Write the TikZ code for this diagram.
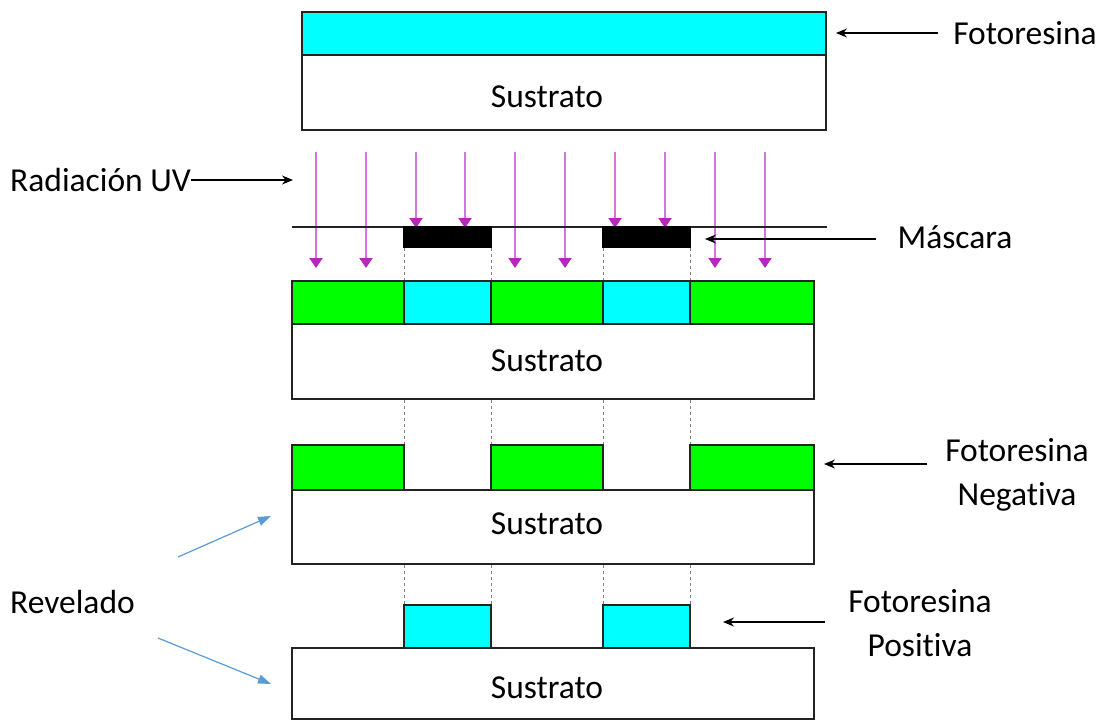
\documentclass[tikz,border=0pt]{standalone}
\usepackage{fontspec}
\setmainfont{Carlito}[Ligatures={NoCommon,NoRare,NoContextual}]
\usetikzlibrary{arrows.meta}
\definecolor{cyanc}{RGB}{0,255,255}
\definecolor{greenc}{RGB}{0,255,0}
\definecolor{uvline}{RGB}{210,120,220}
\definecolor{uvtip}{RGB}{180,40,190}
\definecolor{bluec}{RGB}{91,155,213}
\definecolor{edgec}{RGB}{35,35,35}
\begin{document}
\begin{tikzpicture}[x=1pt,y=-1pt,
  lay/.style={draw=edgec, line width=1.7pt, inner sep=0pt, outer sep=0pt, anchor=north west},
  lbl/.style={font=\fontsize{33.5}{44}\selectfont, inner sep=0pt, text=black},
  ptr/.style={-{Stealth[length=11pt,width=9pt]}, line width=1.2pt, black},
  uv/.style={uvline, line width=2pt, -{Triangle[length=10pt,width=13pt,color=uvtip]}},
  rv/.style={bluec, line width=1.2pt, -{Triangle[length=13pt,width=9pt]}},
  guide/.style={gray, dashed, line width=1pt}]
\useasboundingbox (0,0) rectangle (1109,721);
\fill[white] (0,0) rectangle (1109,721);

% ---- row 1: resist on substrate
\node[lay, fill=cyanc, minimum width=524pt, minimum height=43pt] (r1c) at (302,12) {};
\node[lay, fill=white, minimum width=524pt, minimum height=75pt] (r1s) at (302,55) {};
\node[lbl] (t1) at (547,97) {Sustrato};

% ---- UV arrows and mask
\foreach \xx in {316,366,515,565,715,765} \draw[uv] (\xx,152) -- (\xx,268);
\foreach \xx in {416,465,615,665} \draw[uv] (\xx,152) -- (\xx,228);
\draw[line width=1.4pt, edgec] (292,227) -- (827,227);
\node[lay, fill=black, draw=black, minimum width=87pt, minimum height=20pt] (m1) at (404,227) {};
\node[lay, fill=black, draw=black, minimum width=87pt, minimum height=20pt] (m2) at (603,227) {};
\foreach \xx in {404,491,603,690} \draw[guide] (\xx,248) -- (\xx,281);

% ---- row 2: exposed
\node[lay, fill=greenc, minimum width=112pt, minimum height=43pt] (r2a) at (292,281) {};
\node[lay, fill=cyanc,  minimum width=87pt,  minimum height=43pt] (r2b) at (404,281) {};
\node[lay, fill=greenc, minimum width=112pt, minimum height=43pt] (r2c) at (491,281) {};
\node[lay, fill=cyanc,  minimum width=87pt,  minimum height=43pt] (r2d) at (603,281) {};
\node[lay, fill=greenc, minimum width=124pt, minimum height=43pt] (r2e) at (690,281) {};
\node[lay, fill=white, minimum width=522pt, minimum height=75pt] (r2s) at (292,324) {};
\node[lbl] (t2) at (547,361) {Sustrato};
\foreach \xx in {404,491,603,690} \draw[guide] (\xx,400) -- (\xx,445);

% ---- row 3: negative resist
\node[lay, fill=greenc, minimum width=112pt, minimum height=45pt] (r3a) at (292,445) {};
\node[lay, fill=greenc, minimum width=112pt, minimum height=45pt] (r3c) at (491,445) {};
\node[lay, fill=greenc, minimum width=124pt, minimum height=45pt] (r3e) at (690,445) {};
\node[lay, fill=white, minimum width=522pt, minimum height=74pt] (r3s) at (292,490) {};
\node[lbl] (t3) at (547,524) {Sustrato};
\foreach \xx in {404,491,603,690} \draw[guide] (\xx,565) -- (\xx,605);

% ---- row 4: positive resist
\node[lay, fill=cyanc, minimum width=87pt, minimum height=43pt] (r4b) at (404,605) {};
\node[lay, fill=cyanc, minimum width=87pt, minimum height=43pt] (r4d) at (603,605) {};
\node[lay, fill=white, minimum width=522pt, minimum height=71pt] (r4s) at (292,648) {};
\node[lbl] (t4) at (547,688) {Sustrato};

% ---- labels
\node[lbl] (lf) at (1025,33) {Fotoresina};
\coordinate (lfa) at (938,33);
\coordinate (lfb) at (836,33);
\draw[ptr] (lfa) -- (lfb);

\node[lbl, anchor=west] (luv) at (10,180) {Radiación UV};
\coordinate (luvb) at (293,180);
\draw[ptr] (luv.east) -- (luvb);

\node[lbl] (lm) at (955,237) {Máscara};
\coordinate (lma) at (876,239);
\coordinate (lmb) at (705,239);
\draw[ptr] (lma) -- (lmb);

\node[lbl, align=center] (ln) at (1017,475) {Fotoresina\\Negativa};
\coordinate (lna) at (927,464);
\coordinate (lnb) at (824,464);
\draw[ptr] (lna) -- (lnb);

\node[lbl, align=center] (lp) at (920,623) {Fotoresina\\Positiva};
\coordinate (lpa) at (825,622);
\coordinate (lpb) at (723,622);
\draw[ptr] (lpa) -- (lpb);

\node[lbl, anchor=west] (lr) at (10,602) {Revelado};
\coordinate (ra1) at (178,557);
\coordinate (rb1) at (271,516);
\coordinate (ra2) at (158,638);
\coordinate (rb2) at (271,684);
\draw[rv] (ra1) -- (rb1);
\draw[rv] (ra2) -- (rb2);
\end{tikzpicture}
\end{document}
